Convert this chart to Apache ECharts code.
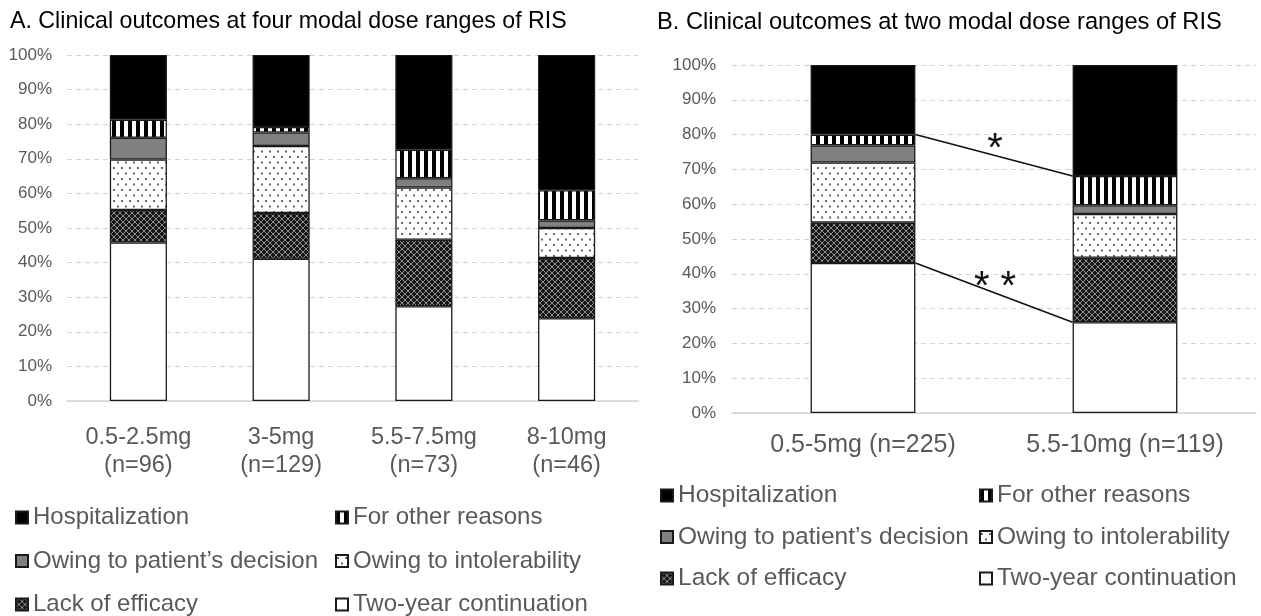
<!DOCTYPE html>
<html>
<head>
<meta charset="utf-8">
<script src="https://cdn.jsdelivr.net/npm/echarts@6/dist/echarts.min.js"></script>
<style>
html,body{margin:0;padding:0;background:#fff;}
#chart{width:1261px;height:616px;}
</style>
</head>
<body>
<div id="chart"></div>
<script>
// ---------- DATA ----------
const titleA = 'A. Clinical outcomes at four modal dose ranges of RIS';
const titleB = 'B. Clinical outcomes at two modal dose ranges of RIS';
const categoriesA = ['0.5-2.5mg\n(n=96)', '3-5mg\n(n=129)', '5.5-7.5mg\n(n=73)', '8-10mg\n(n=46)'];
const categoriesB = ['0.5-5mg (n=225)', '5.5-10mg (n=119)'];
const seriesNames = ['Two-year continuation', 'Lack of efficacy', 'Owing to intolerability',
                     "Owing to patient\u2019s decision", 'For other reasons', 'Hospitalization'];
// percentages, panel A
const contA    = [45.8, 41.1, 27.4, 23.9];
const lackA    = [9.4, 13.2, 19.2, 17.4];
const intolA   = [14.6, 19.4, 15.1, 8.7];
const patientA = [6.3, 3.9, 2.7, 2.2];
const otherA   = [5.2, 1.6, 8.2, 8.7];
const hospA    = [18.7, 20.8, 27.4, 39.1];
// percentages, panel B
const contB    = [43.1, 26.1];
const lackB    = [11.6, 18.5];
const intolB   = [17.3, 12.6];
const patientB = [4.9, 2.5];
const otherB   = [3.1, 8.4];
const hospB    = [20.0, 31.9];
const sigMarks = ['*', '* *'];
const legendCol1 = ['Hospitalization', "Owing to patient\u2019s decision", 'Lack of efficacy'];
const legendCol2 = ['For other reasons', 'Owing to intolerability', 'Two-year continuation'];

// ---------- PATTERNS ----------
function makeCanvas(w, h, draw) {
  const c = document.createElement('canvas');
  c.width = w; c.height = h;
  const ctx = c.getContext('2d');
  draw(ctx, w, h);
  return c;
}
const patStripes = makeCanvas(8, 8, (ctx) => {
  ctx.fillStyle = '#fff'; ctx.fillRect(0, 0, 8, 8);
  ctx.fillStyle = '#000'; ctx.fillRect(0, 0, 4, 8);
});
const patDots = makeCanvas(8, 11, (ctx) => {
  ctx.fillStyle = '#fff'; ctx.fillRect(0, 0, 8, 11);
  ctx.fillStyle = '#6a6a6a';
  ctx.fillRect(1, 2, 2, 2);
  ctx.fillRect(5, 7.5, 2, 2);
});
const patCross = makeCanvas(6, 6, (ctx) => {
  ctx.fillStyle = '#161616'; ctx.fillRect(0, 0, 6, 6);
  ctx.strokeStyle = '#8e8e8e'; ctx.lineWidth = 1;
  ctx.beginPath();
  ctx.moveTo(0, 3); ctx.lineTo(3, 0); ctx.lineTo(6, 3); ctx.lineTo(3, 6); ctx.closePath();
  ctx.stroke();
});
const fills = [
  '#ffffff',
  { image: patCross, repeat: 'repeat' },
  { image: patDots, repeat: 'repeat' },
  '#808080',
  { image: patStripes, repeat: 'repeat' },
  '#000000'
];

const FONT = 'Liberation Sans, Arial, sans-serif';
const GRAY = '#595959';

const dataA = [contA, lackA, intolA, patientA, otherA, hospA];
const dataB = [contB, lackB, intolB, patientB, otherB, hospB];

function barSeries(dataArr, axisIdx, stackName) {
  return seriesNames.map((n, i) => ({
    name: n,
    type: 'bar',
    stack: stackName,
    xAxisIndex: axisIdx,
    yAxisIndex: axisIdx,
    barWidth: '40%',
    data: dataArr[i],
    itemStyle: { color: fills[i], borderColor: '#1a1a1a', borderWidth: 1.3 },
    emphasis: { disabled: true },
    animation: false
  }));
}

// cumulative tops for significance lines
function cum(upTo, idx) {
  let s = 0;
  for (let k = 0; k <= upTo; k++) s += dataB[k][idx];
  return s;
}
const sigLines = [
  [cum(4, 0), cum(4, 1), sigMarks[0]],   // top of "For other reasons"
  [cum(0, 0), cum(0, 1), sigMarks[1]]    // top of "Two-year continuation"
];

const yAxisCommon = {
  type: 'value', min: 0, max: 100, interval: 10,
  axisLine: { show: false }, axisTick: { show: false },
  axisLabel: { formatter: '{value}%', color: GRAY, fontSize: 17, fontFamily: FONT, margin: 15 },
  splitLine: { lineStyle: { color: '#d4d4d4', type: [5, 4], width: 1 } }
};

function legend(left, top, data, fs, gap) {
  return {
    left: left, top: top, height: 130, data: data,
    orient: 'vertical', icon: 'rect', itemWidth: 12, itemHeight: 12,
    itemGap: gap, selectedMode: false, padding: 0,
    textStyle: { color: GRAY, fontSize: fs, fontFamily: FONT, lineHeight: 25 }
  };
}

const option = {
  backgroundColor: '#fff',
  animation: false,
  title: [
    { text: titleA, left: 10, top: 10, padding: 0, textStyle: { fontSize: 23.2, fontWeight: 'normal', color: '#000', fontFamily: FONT } },
    { text: titleB, left: 657, top: 10, padding: 0, textStyle: { fontSize: 23.7, fontWeight: 'normal', color: '#000', fontFamily: FONT } }
  ],
  legend: [
    legend(15, 505, legendCol1, 24, 18.5),
    legend(335, 505, legendCol2, 24, 18.5),
    legend(660, 483, legendCol1, 24.5, 16.5),
    legend(979, 483, legendCol2, 24.5, 16.5)
  ],
  grid: [
    { left: 67, right: 1261 - 638, top: 55, bottom: 616 - 401, containLabel: false },
    { left: 732, right: 1261 - 1256, top: 65, bottom: 616 - 413, containLabel: false }
  ],
  xAxis: [
    { type: 'category', gridIndex: 0, data: categoriesA,
      axisTick: { show: false }, axisLine: { lineStyle: { color: '#d4d4d4', width: 1.5 } },
      axisLabel: { color: GRAY, fontSize: 23.5, lineHeight: 28, fontFamily: FONT, margin: 23, interval: 0 } },
    { type: 'category', gridIndex: 1, data: categoriesB,
      axisTick: { show: false }, axisLine: { lineStyle: { color: '#d4d4d4', width: 1.5 } },
      axisLabel: { color: GRAY, fontSize: 25, fontFamily: FONT, margin: 20, interval: 0 } }
  ],
  yAxis: [
    Object.assign({ gridIndex: 0 }, yAxisCommon),
    Object.assign({ gridIndex: 1 }, yAxisCommon, { axisLabel: Object.assign({}, yAxisCommon.axisLabel, { margin: 16 }) })
  ],
  series: [
    ...barSeries(dataA, 0, 'A'),
    ...barSeries(dataB, 1, 'B'),
    {
      type: 'custom', name: 'sig', xAxisIndex: 1, yAxisIndex: 1, z: 10,
      data: sigLines.map((s, i) => [0, s[0], i]),
      encode: { x: 0, y: 1 },
      renderItem: function (params, api) {
        const s = sigLines[params.dataIndex];
        const p0 = api.coord([0, s[0]]);
        const p1 = api.coord([1, s[1]]);
        const band = api.size([1, 0])[0];
        const half = band * 0.2;
        const x0 = p0[0] + half, x1 = p1[0] - half;
        const mx = (x0 + x1) / 2, my = (p0[1] + p1[1]) / 2;
        return {
          type: 'group',
          children: [
            { type: 'line', shape: { x1: x0, y1: p0[1], x2: x1, y2: p1[1] },
              style: { stroke: '#111', lineWidth: 1.6 } },
            { type: 'text', x: mx + 1, y: my - 5,
              style: { text: s[2], fontSize: 40, fontFamily: FONT, fill: '#111',
                       textAlign: 'center', textVerticalAlign: 'middle' } }
          ]
        };
      },
      animation: false, silent: true
    }
  ]
};

const chart = echarts.init(document.getElementById('chart'), null, { renderer: 'canvas' });
chart.setOption(option);
</script>
</body>
</html>
